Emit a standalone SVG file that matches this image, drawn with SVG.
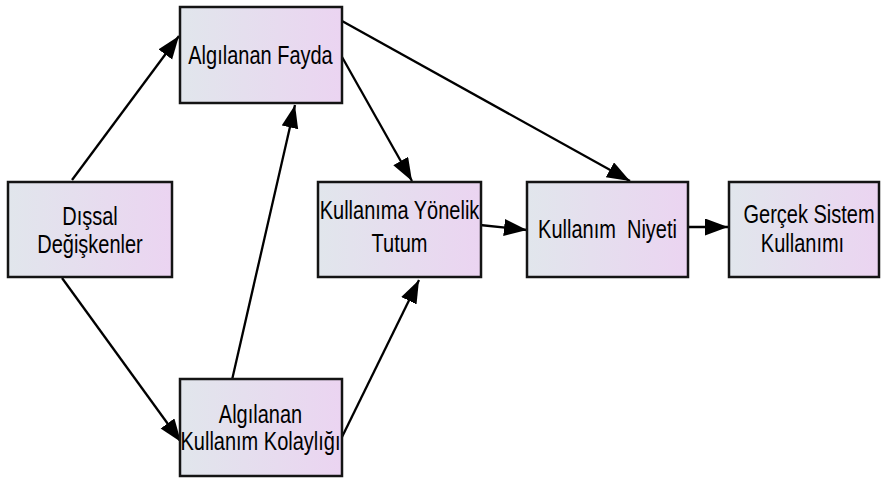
<svg xmlns="http://www.w3.org/2000/svg" width="881" height="481" viewBox="0 0 881 481">
<defs>
<linearGradient id="g" x1="0" y1="0" x2="1" y2="0">
<stop offset="0" stop-color="#e1e6ec"/>
<stop offset="1" stop-color="#ebd4f1"/>
</linearGradient>
<marker id="ah" markerUnits="userSpaceOnUse" markerWidth="26" markerHeight="20" refX="23" refY="8.5" orient="auto">
<path d="M0,0 L23,8.5 L0,17 Z" fill="#000"/>
</marker>
<style>
.box{fill:url(#g);stroke:#141414;stroke-width:2.5}
.t{font-family:"Liberation Sans",Arial,sans-serif;font-size:20px;fill:#000;text-anchor:middle;white-space:pre}
.c{stroke:#000;stroke-width:2.3;fill:none;marker-end:url(#ah)}
</style>
</defs>
<rect width="881" height="481" fill="#fff"/>
<g id="connectors">
<line class="c" x1="72" y1="180" x2="179" y2="36"/>
<line class="c" x1="62" y1="278" x2="181" y2="442"/>
<line class="c" x1="232" y1="380" x2="295" y2="105"/>
<line class="c" x1="342" y1="57" x2="412" y2="181"/>
<line class="c" x1="342" y1="21" x2="630" y2="181"/>
<line class="c" x1="342" y1="437" x2="419" y2="280"/>
<line class="c" x1="480" y1="225" x2="527" y2="230"/>
<line class="c" x1="689" y1="227" x2="728" y2="227"/>
</g>
<g id="algilanan-fayda">
<rect class="box" x="180" y="7" width="162" height="96"/>
<text class="t" transform="translate(260.5,64) scale(1,1.25)">Algılanan Fayda</text>
</g>
<g id="dissal-degiskenler">
<rect class="box" x="8" y="182" width="164" height="95"/>
<text class="t" transform="translate(90,225) scale(1,1.25)">Dışsal</text>
<text class="t" transform="translate(90,253) scale(1,1.25)">Değişkenler</text>
</g>
<g id="kullanima-yonelik-tutum">
<rect class="box" x="318" y="182" width="163" height="95"/>
<text class="t" transform="translate(399.5,219) scale(1,1.25)">Kullanıma Yönelik</text>
<text class="t" transform="translate(399.5,252) scale(1,1.25)">Tutum</text>
</g>
<g id="kullanim-niyeti">
<rect class="box" x="527" y="182" width="161" height="95"/>
<text class="t" transform="translate(607.5,238) scale(1,1.25)">Kullanım  Niyeti</text>
</g>
<g id="gercek-sistem-kullanimi">
<rect class="box" x="729" y="182" width="150" height="95"/>
<text class="t" transform="translate(809,223) scale(1,1.25)">Gerçek Sistem</text>
<text class="t" transform="translate(802.5,252) scale(1,1.25)">Kullanımı</text>
</g>
<g id="algilanan-kullanim-kolayligi">
<rect class="box" x="180" y="379" width="162" height="97"/>
<text class="t" transform="translate(260.5,423) scale(1,1.25)">Algılanan</text>
<text class="t" transform="translate(260.5,450) scale(1,1.25)">Kullanım Kolaylığı</text>
</g>
</svg>
